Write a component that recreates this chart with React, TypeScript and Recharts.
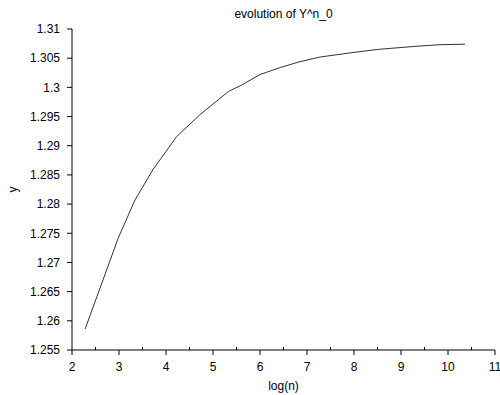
import React from 'react';
import { LineChart, Line, XAxis, YAxis, Label } from 'recharts';

const logN = [2.28, 2.98, 3.34, 3.73, 4.23, 4.72, 5.33, 5.61, 6.0, 6.43, 6.85, 7.28, 7.91, 8.5, 9.26, 9.8, 10.36];
const yValues = [1.2586, 1.2741, 1.2807, 1.286, 1.2916, 1.2953, 1.2993, 1.3004, 1.3022, 1.3034, 1.3044, 1.3052, 1.3059, 1.3065, 1.307, 1.3073, 1.3074];
const xTicks = [2, 2.5, 3, 3.5, 4, 4.5, 5, 5.5, 6, 6.5, 7, 7.5, 8, 8.5, 9, 9.5, 10, 10.5, 11];
const yTicks = [1.255, 1.26, 1.265, 1.27, 1.275, 1.28, 1.285, 1.29, 1.295, 1.3, 1.305, 1.31];
const title = 'evolution of Y^n_0';
const xTitle = 'log(n)';
const yTitle = 'y';

const data = logN.map((x, i) => ({ x, y: yValues[i] }));

const FONT = '"Liberation Sans", Arial, sans-serif';

const XTick = (props: any) => {
  const { x, y, payload } = props;
  const v = payload.value;
  const major = Math.abs(v - Math.round(v)) < 1e-9;
  if (!major) {
    return <line x1={x} x2={x} y1={y} y2={y - 3} stroke="#000" strokeWidth={1} />;
  }
  return (
    <g>
      <line x1={x} x2={x} y1={y} y2={y + 5} stroke="#000" strokeWidth={1} />
      <text x={x} y={y + 21} textAnchor="middle" fontFamily={FONT} fontSize={12} fill="#000">
        {String(v)}
      </text>
    </g>
  );
};

const fmtY = (v: number) => parseFloat(v.toFixed(3)).toString();

export default function App() {
  return (
    <div style={{ position: 'absolute', left: 0, top: 0, width: 500, height: 395, background: '#fff' }}>
      <LineChart width={500} height={395} data={data} margin={{ top: 29, right: 5, bottom: 0, left: 0 }}>
        <text x={283.5} y={18} textAnchor="middle" fontFamily={FONT} fontSize={12} fill="#000">
          {title}
        </text>
        <XAxis
          dataKey="x"
          type="number"
          domain={[2, 11]}
          ticks={xTicks}
          interval={0}
          tickSize={0}
          tickMargin={0}
          tick={<XTick />}
          tickLine={false}
          height={45}
          stroke="#000"
          axisLine={{ stroke: '#000' }}
        >
          <Label value={xTitle} position="insideBottom" offset={5} style={{ fontFamily: FONT, fontSize: 12, fill: '#000' }} />
        </XAxis>
        <YAxis
          type="number"
          domain={[1.255, 1.31]}
          ticks={yTicks}
          interval={0}
          tickFormatter={fmtY}
          tickSize={5}
          tickMargin={7}
          width={72}
          stroke="#000"
          tick={{ fontFamily: FONT, fontSize: 12, fill: '#000' }}
          tickLine={{ stroke: '#000' }}
          axisLine={{ stroke: '#000' }}
        >
          <Label value={yTitle} angle={-90} position="insideLeft" offset={13} style={{ fontFamily: FONT, fontSize: 12, fill: '#000', textAnchor: 'middle' }} />
        </YAxis>
        <Line dataKey="y" type="linear" stroke="#333" strokeWidth={1} dot={false} isAnimationActive={false} />
      </LineChart>
    </div>
  );
}
